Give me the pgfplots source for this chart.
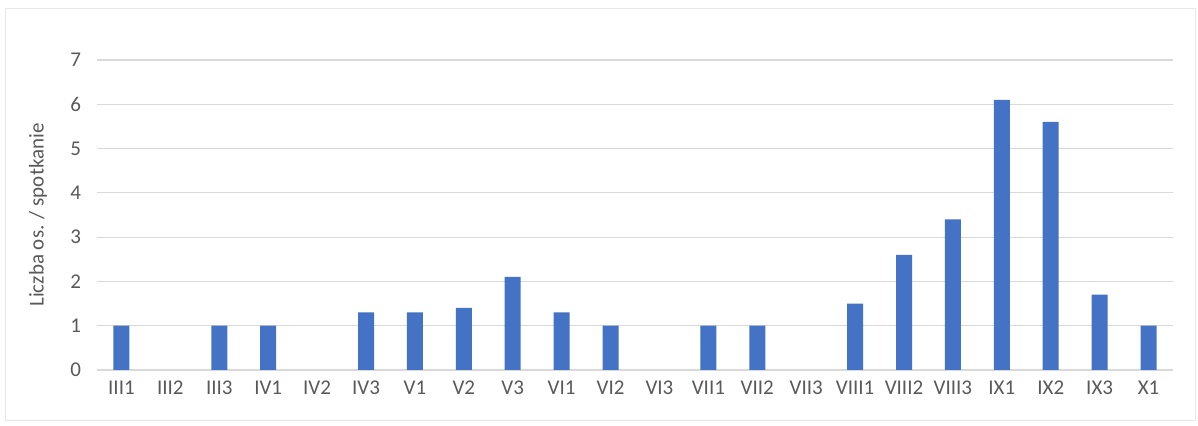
\documentclass[border=0pt]{standalone}
\usepackage{fontspec}
\setmainfont{Carlito}
\usepackage{pgfplots}
\pgfplotsset{compat=1.18}
\definecolor{barblue}{HTML}{4472C4}
\definecolor{txtgray}{HTML}{595959}
\definecolor{gridgray}{HTML}{D9D9D9}
\newcommand{\U}{0.5pt}
\begin{document}
\begin{tikzpicture}[x=\U,y=\U]
\path[use as bounding box] (-97,-56) rectangle (1101,370);
\draw[gray!18] (-92,-50) rectangle (1098,362);
\begin{axis}[
  at={(0,0)}, anchor=south west,
  scale only axis,
  width=538pt, height=155pt,
  xmin=-0.5, xmax=21.5,
  ymin=0, ymax=7,
  ytick={0,...,7},
  xtick={0,...,21},
  xticklabels={III1,III2,III3,IV1,IV2,IV3,V1,V2,V3,VI1,VI2,VI3,VII1,VII2,VII3,VIII1,VIII2,VIII3,IX1,IX2,IX3,X1},
  major tick length=0pt,
  axis line style={draw=none},
  ymajorgrids,
  grid style={gridgray, line width=0.6pt},
  tick label style={font=\fontsize{10.5}{12}\selectfont, text=txtgray},
  /pgf/number format/assume math mode=true,
  xticklabel style={yshift=-2pt},
  yticklabel style={xshift=-4.5pt},
  ylabel={Liczba os. / spotkanie},
  ylabel style={at={(axis description cs:-0.0548,0.5)}, anchor=center, font=\fontsize{10.5}{12}\selectfont, text=txtgray},
]
\addplot[ybar, bar width=8pt, fill=barblue, draw=none] coordinates {
(0,1) (2,1) (3,1) (5,1.3) (6,1.3) (7,1.4) (8,2.1) (9,1.3) (10,1)
(12,1) (13,1) (15,1.5) (16,2.6) (17,3.4) (18,6.1) (19,5.6) (20,1.7) (21,1)
};
\end{axis}
\end{tikzpicture}
\end{document}
